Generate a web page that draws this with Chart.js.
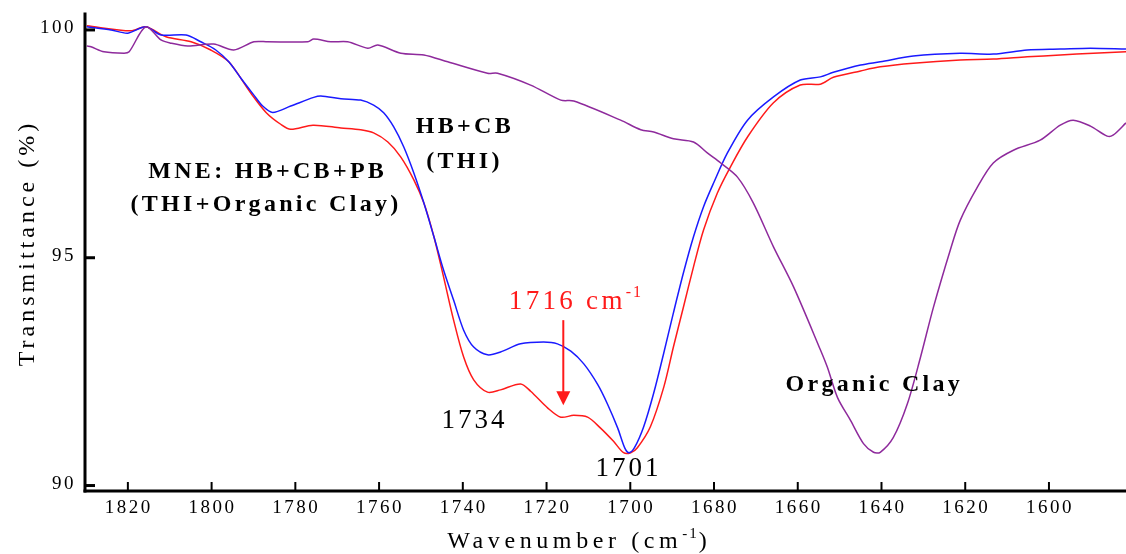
<!DOCTYPE html>
<html>
<head>
<meta charset="utf-8">
<script src="https://cdn.jsdelivr.net/npm/chart.js@4.4.0/dist/chart.umd.min.js"></script>
<style>
  html, body { margin: 0; padding: 0; background: #fff; }
</style>
</head>
<body>
<canvas id="ir" width="1126" height="554"></canvas>
<script>
// FTIR spectra, carbonyl region (wavenumber in cm-1, transmittance in %)
const hbcbWn = [1829.8, 1824.0, 1820.0, 1815.7, 1812.1, 1806.1, 1802.6, 1799.0, 1795.9, 1793.0,
  1789.9, 1787.8, 1785.4, 1781.1, 1775.6, 1773.9, 1769.1, 1764.4, 1761.3, 1758.9,
  1756.5, 1754.1, 1751.7, 1749.3, 1746.9, 1744.6, 1742.2, 1739.8, 1737.4, 1734.1,
  1731.0, 1726.2, 1720.7, 1717.4, 1714.2, 1711.1, 1707.8, 1705.4, 1703.0, 1701.3,
  1700.3, 1699.0, 1696.8, 1694.4, 1692.0, 1689.7, 1687.3, 1684.9, 1682.5, 1680.1,
  1676.8, 1672.0, 1665.8, 1659.4, 1654.6, 1651.5, 1645.0, 1640.3, 1632.4, 1621.2,
  1613.3, 1605.2, 1597.3, 1590.1, 1581.6];
const hbcbT = [100.07, 100.0, 99.93, 100.07, 99.89, 99.89, 99.74, 99.56, 99.30, 98.94,
  98.57, 98.33, 98.19, 98.33, 98.52, 98.55, 98.49, 98.46, 98.35, 98.18,
  97.87, 97.43, 96.86, 96.20, 95.46, 94.73, 94.07, 93.41, 93.04, 92.87,
  92.93, 93.11, 93.15, 93.11, 92.95, 92.67, 92.22, 91.78, 91.26, 90.82,
  90.72, 90.83, 91.29, 92.03, 92.91, 93.79, 94.67, 95.46, 96.12, 96.64,
  97.30, 98.02, 98.53, 98.90, 98.97, 99.07, 99.23, 99.30, 99.43, 99.49,
  99.47, 99.56, 99.58, 99.60, 99.58];

const mneWn = [1829.8, 1819.3, 1815.7, 1810.9, 1804.9, 1800.2, 1795.9, 1790.6, 1787.0, 1783.5,
  1781.1, 1775.8, 1769.1, 1764.4, 1761.3, 1757.9, 1754.8, 1751.7, 1749.3, 1746.9,
  1744.6, 1742.2, 1739.8, 1737.4, 1734.1, 1731.0, 1726.2, 1723.8, 1719.7, 1716.6,
  1713.5, 1710.2, 1707.1, 1704.0, 1701.6, 1699.9, 1698.3, 1695.2, 1692.0, 1689.7,
  1687.3, 1684.9, 1682.5, 1679.2, 1676.1, 1672.0, 1665.8, 1659.4, 1654.6, 1651.5,
  1645.0, 1640.3, 1632.4, 1621.2, 1613.3, 1605.2, 1597.3, 1589.4, 1581.6];
const mneT = [100.09, 99.98, 100.07, 99.85, 99.74, 99.56, 99.30, 98.61, 98.19, 97.93,
  97.82, 97.91, 97.85, 97.81, 97.74, 97.54, 97.21, 96.71, 96.20, 95.46,
  94.58, 93.63, 92.82, 92.32, 92.05, 92.10, 92.23, 92.07, 91.70, 91.50,
  91.54, 91.50, 91.26, 90.97, 90.72, 90.72, 90.83, 91.29, 92.16, 93.04,
  93.92, 94.80, 95.61, 96.42, 96.99, 97.65, 98.40, 98.79, 98.81, 98.96,
  99.10, 99.19, 99.27, 99.34, 99.36, 99.41, 99.45, 99.49, 99.52];

const clayWn = [1829.8, 1828.8, 1825.7, 1820.9, 1819.7, 1815.7, 1812.1, 1809.7, 1805.7, 1799.5,
  1794.7, 1789.9, 1786.6, 1777.0, 1775.6, 1771.5, 1767.5, 1762.7, 1760.3, 1754.8,
  1749.3, 1743.6, 1734.1, 1731.7, 1723.8, 1716.6, 1713.5, 1702.3, 1697.5, 1694.4,
  1689.7, 1684.9, 1681.6, 1678.4, 1674.4, 1670.6, 1665.8, 1661.0, 1654.6, 1652.9,
  1650.5, 1647.4, 1644.3, 1641.9, 1640.3, 1637.2, 1633.8, 1630.7, 1627.6, 1623.6,
  1621.2, 1617.1, 1613.3, 1608.5, 1602.1, 1597.3, 1594.2, 1590.1, 1586.1, 1584.7,
  1581.6];
const clayT = [99.65, 99.63, 99.52, 99.49, 99.52, 100.07, 99.78, 99.71, 99.65, 99.69,
  99.56, 99.74, 99.74, 99.74, 99.80, 99.74, 99.74, 99.60, 99.67, 99.49,
  99.45, 99.30, 99.05, 99.05, 98.79, 98.46, 98.44, 98.02, 97.81, 97.76,
  97.61, 97.54, 97.30, 97.08, 96.77, 96.20, 95.24, 94.36, 92.98, 92.59,
  91.93, 91.43, 90.92, 90.73, 90.73, 91.05, 91.80, 92.81, 93.91, 95.16,
  95.82, 96.55, 97.08, 97.36, 97.58, 97.91, 98.02, 97.89, 97.67, 97.69,
  97.96];

const xTicks = [1820, 1800, 1780, 1760, 1740, 1720, 1700, 1680, 1660, 1640, 1620, 1600];
const yTicks = [90, 95, 100];

const shoulderWn = 1716;

function toPoints(wn, t) {
  return wn.map((x, i) => ({ x, y: t[i] }));
}

function spectrum(label, wn, t, color) {
  return {
    label,
    data: toPoints(wn, t),
    borderColor: color,
    borderWidth: 1.5,
    pointRadius: 0,
    fill: false,
    tension: 0.3
  };
}

// axes, ticks and the text labels are drawn by hand so they can be letter-spaced
const irDecor = {
  id: "irDecor",
  afterDraw(chart) {
    const { ctx, chartArea: a, scales: { x, y } } = chart;
    const serif = "'Liberation Serif', 'Times New Roman', serif";

    function line(x1, y1, x2, y2, w, color) {
      ctx.beginPath();
      ctx.lineWidth = w;
      ctx.strokeStyle = color || "#000";
      ctx.moveTo(x1, y1);
      ctx.lineTo(x2, y2);
      ctx.stroke();
    }
    function text(str, px, py, font, spacing, align, color) {
      ctx.font = font;
      ctx.letterSpacing = spacing + "px";
      ctx.textAlign = align;
      ctx.fillStyle = color || "#000";
      ctx.fillText(str, px, py);
      return ctx.measureText(str).width;
    }

    ctx.save();
    ctx.textBaseline = "alphabetic";

    // axis lines
    ctx.lineCap = "square";
    line(a.left - 1, a.top, a.left - 1, a.bottom, 3);
    line(a.left - 1, a.bottom, a.right, a.bottom, 3);
    ctx.lineCap = "butt";

    // inward ticks + labels
    xTicks.forEach(v => {
      const px = x.getPixelForValue(v);
      line(px, a.bottom, px, a.bottom - 9, 2);
      text(String(v), px + 1, a.bottom + 22, "19px " + serif, 2.5, "center");
    });
    yTicks.forEach(v => {
      const py = y.getPixelForValue(v);
      line(a.left, py, a.left + 9, py, 3);
      ctx.textBaseline = "middle";
      text(String(v), a.left - 10, py - 2, "19px " + serif, 2.5, "right");
      ctx.textBaseline = "alphabetic";
    });

    // axis titles
    ctx.save();
    ctx.translate(34, 243);
    ctx.rotate(-Math.PI / 2);
    text("Transmittance (%)", 0, 0, "24px " + serif, 4, "center");
    ctx.restore();

    ctx.textAlign = "left";
    ctx.font = "24px " + serif;
    ctx.letterSpacing = "4.6px";
    const head = "Wavenumber (cm";
    const headW = ctx.measureText(head).width;
    ctx.font = "15px " + serif;
    ctx.letterSpacing = "2px";
    const supW = ctx.measureText("-1").width;
    ctx.font = "24px " + serif;
    const tailW = ctx.measureText(")").width;
    let tx = 578 - (headW + supW + tailW) / 2;
    text(head, tx, 548, "24px " + serif, 4.6, "left");
    tx += headW;
    text("-1", tx, 538, "15px " + serif, 2, "left");
    tx += supW;
    text(")", tx, 548, "24px " + serif, 4.6, "left");

    // curve labels
    const bold = "bold 24px " + serif;
    text("MNE: HB+CB+PB", x.getPixelForValue(1786.6), y.getPixelForValue(96.75), bold, 3.3, "center");
    text("(THI+Organic Clay)", x.getPixelForValue(1787), y.getPixelForValue(96.02), bold, 3.3, "center");
    text("HB+CB", x.getPixelForValue(1739.5), y.getPixelForValue(97.74), bold, 3.3, "center");
    text("(THI)", x.getPixelForValue(1739.6), y.getPixelForValue(96.97), bold, 3.3, "center");
    text("Organic Clay", x.getPixelForValue(1641.7), y.getPixelForValue(92.07), bold, 3.3, "center");

    // peak positions
    text("1734", x.getPixelForValue(1737.2), y.getPixelForValue(91.27), "27px " + serif, 3, "center");
    text("1701", x.getPixelForValue(1700.4), y.getPixelForValue(90.2), "27px " + serif, 3, "center");

    // shoulder marker with arrow
    const red = "#ff1a1a";
    let lx = x.getPixelForValue(1729.0);
    const ly = y.getPixelForValue(93.87);
    lx += text("1716 cm", lx, ly, "27px " + serif, 3.3, "left", red);
    text("-1", lx, ly - 12, "16px " + serif, 2, "left", red);

    const ax = x.getPixelForValue(shoulderWn);
    const aTop = y.getPixelForValue(93.63);
    const aTip = y.getPixelForValue(91.76);
    line(ax, aTop, ax, aTip - 12, 2, red);
    ctx.beginPath();
    ctx.fillStyle = red;
    ctx.moveTo(ax - 7, aTip - 14);
    ctx.lineTo(ax + 7, aTip - 14);
    ctx.lineTo(ax, aTip);
    ctx.closePath();
    ctx.fill();

    ctx.restore();
  }
};

new Chart(document.getElementById("ir"), {
  type: "line",
  data: {
    datasets: [
      spectrum("Organic Clay", clayWn, clayT, "#8e2a9c"),
      spectrum("HB+CB (THI)", hbcbWn, hbcbT, "#1a1aff"),
      spectrum("MNE: HB+CB+PB", mneWn, mneT, "#ff1a1a")
    ]
  },
  options: {
    responsive: false,
    animation: false,
    layout: { padding: { left: 86, right: 0, top: 14, bottom: 63 } },
    plugins: { legend: { display: false }, tooltip: { enabled: false } },
    scales: {
      x: { type: "linear", reverse: true, min: 1581.6, max: 1830, display: false },
      y: { type: "linear", min: 89.88, max: 100.35, display: false }
    }
  },
  plugins: [irDecor]
});
</script>
</body>
</html>
